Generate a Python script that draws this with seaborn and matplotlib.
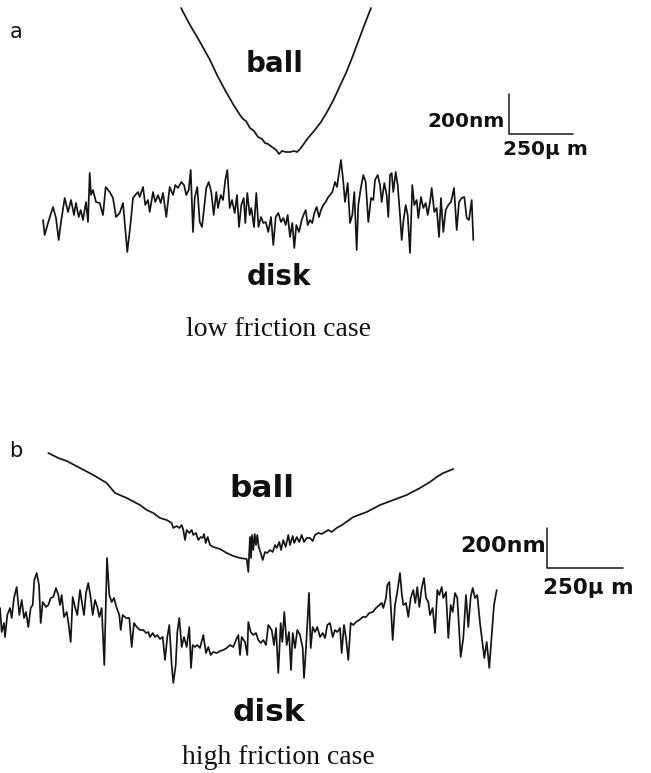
import matplotlib.pyplot as plt
import seaborn as sns
import pandas as pd

# Profile readings taken off the figure.
# x = scan position, z = height above the trace baseline (up is positive),
# both in picture units; the scale bars give the physical size of one unit.

# (a) low friction case
ball_a_x = [181, 190, 200, 210, 217, 225, 233, 240, 243, 246, 250, 254, 258, 262, 265, 268, 272, 275, 277, 279,
            282, 286, 290, 294, 297, 300, 303, 308, 314, 321, 327, 333, 339, 346, 352, 358, 364, 371]
ball_a_z = [144, 127, 110, 92, 77, 62, 48, 37, 33, 31, 24, 21, 15, 13, 9, 8, 5, 3, 1, -2,
            1, 0, 0, 1, 0, 3, 7, 14, 21, 30, 40, 51, 64, 79, 94, 110, 126, 144]

disk_a_x = [43, 44.7, 48, 53, 56, 58.7, 61, 64.7, 68, 71,
            74, 76, 78.7, 80.7, 83, 86, 88, 89.7, 91, 93,
            96, 99.7, 103, 105.7, 109.7, 113, 116, 119.7, 123, 124.7,
            127.3, 130.7, 133, 135.3, 138, 139.7, 143, 145.3, 148, 149.7,
            153, 155.3, 158, 160.7, 163, 166.3, 169.7, 173, 175.3, 178,
            181.3, 184, 186.3, 188.7, 190.7, 193, 194.7, 197.3, 199.7, 202,
            204.7, 206.3, 208.7, 211.3, 213.7, 216.3, 218, 220.7, 223, 225.3,
            227.3, 229.7, 232, 234.7, 237, 239, 241.3, 243.7, 245.3, 247.3,
            249.7, 251.3, 254, 256.3, 258.5, 261, 263.3, 265.7, 268.3, 271,
            273.3, 275.7, 278.3, 281, 283.3, 285.7, 287.7, 290, 292.3, 294.3,
            296.3, 299, 301.7, 304.3, 305.7, 307.7, 310, 312.3, 314.3, 316.7,
            319, 321, 323.3, 325.7, 327.7, 330, 332.3, 335, 337, 339,
            341, 343.3, 345, 347.7, 350, 352.3, 354.3, 356.7, 358.3, 361,
            363.3, 365.7, 368.3, 371, 373.3, 375, 377.7, 380, 381.7, 384.3,
            386.7, 388.3, 390, 391.7, 393.3, 395.7, 397.7, 400, 401.7, 403.3,
            405.7, 407.7, 410, 412.3, 414.3, 416.7, 418.3, 421, 423.3, 425.7,
            427.7, 430, 431.7, 434.3, 436.7, 439, 441, 443.3, 445.7, 448.3,
            451, 454, 456.7, 459, 461.7, 464.3, 466.7, 469, 471.7, 473.3]
disk_a_z = [0, -15, -3, 13, 2, -20, -2, 22, 8, 20,
            5, 17, 3, 10, 0, 18, -2, 47, 25, 30,
            18, 17, 5, 33, 28, 22, 3, 7, 17, -2,
            -32, -2, 22, 25, 28, 23, 33, 15, 20, 8,
            28, 18, 25, 17, 27, 3, 33, 25, 35, 32,
            38, 35, 25, 30, 50, -12, 22, 33, -2, -7,
            18, 32, 38, 28, 5, 28, 12, 25, 20, 40,
            50, 12, 20, 7, 25, -7, 15, 22, -3, 27,
            5, 12, -7, 27, -7, 3, -3, -2, -12, 3,
            -25, 3, 7, -2, 2, -5, 5, -17, -3, -28,
            -5, -12, 0, 7, 10, -5, 0, -3, 7, 13,
            3, 10, 15, 18, 22, 25, 28, 38, 33, 47,
            60, 38, 18, 37, -3, 5, 28, -30, 15, 33,
            45, 38, -2, 22, 20, 40, 45, 35, 18, 37,
            25, 3, 45, 47, 28, 48, 35, 5, -20, -2,
            15, 5, -33, 35, 15, 20, 2, 23, 12, 17,
            5, 18, 32, 8, 12, -17, 22, -12, 10, 15,
            18, 32, -10, 18, 22, 23, 2, 0, 20, -20]

# (b) high friction case
ball_b_x = [48.3, 58.3, 66.7, 80, 93.3, 106.7, 115, 126.7, 140, 146.7,
            153.3, 160, 166.7, 171.7, 173.3, 176.7, 179.3, 181.7, 183.3, 185,
            186.7, 189.3, 191.7, 193.3, 196, 198.3, 200.7, 202.7, 204, 205.7,
            207.7, 210, 213.3, 220, 226.7, 233.3, 240, 246.7, 248.3, 249,
            250, 251, 252, 253.3, 254.7, 256, 257.3, 258.7, 260.7, 262.7,
            265, 267.3, 270, 272.7, 275, 276.7, 279.3, 281, 283.3, 285.7,
            288.3, 290, 292.7, 294.3, 296.7, 299.3, 301.7, 304, 306.7, 310,
            312.7, 315, 318.3, 321.7, 325, 328.3, 331.7, 336.7, 342, 353.3,
            366.7, 380, 393.3, 406.7, 420, 430, 436.7, 443.3, 453.3]
ball_b_z = [104, 99, 96, 89, 82, 74, 64, 59, 52, 47,
            44, 39, 37, 34, 29, 31, 29, 32, 27, 17,
            27, 24, 27, 22, 24, 17, 20, 19, 23, 14,
            20, 12, 10, 8, 4, 1, -1, -2, -15, 0,
            20, -1, 22, 7, 23, 12, 22, 10, 4, -3,
            5, 4, 7, 5, 12, 9, 15, 7, 17, 10,
            22, 12, 21, 14, 20, 15, 22, 15, 19, 19,
            16, 22, 24, 23, 25, 27, 25, 29, 32, 40,
            45, 52, 57, 62, 69, 75, 80, 84, 88]

disk_b_x = [0, 1.7, 4, 5, 7.3, 10, 11.7, 14, 16.7, 19.3,
            21.7, 24, 26, 28.3, 30.7, 32.7, 34.3, 36.7, 39, 40.7,
            42.7, 46, 48.3, 50.7, 53.3, 56, 58.3, 60, 61.7, 64,
            66.7, 68.3, 70.7, 72.7, 75, 77.3, 80, 82.3, 84, 86,
            88.3, 90.7, 92.7, 95, 97.3, 99.3, 101.7, 104.3, 107, 109.3,
            111.7, 114, 116.7, 119.3, 120.7, 122.7, 126, 129.3, 131.7, 134,
            136.7, 140, 143.3, 146, 148.3, 150, 152.7, 155, 157.3, 160,
            162.7, 165, 167.3, 169.3, 171.7, 173.3, 175.7, 177.3, 179.3, 181.7,
            184, 186.7, 189.3, 191, 192.7, 195, 197.3, 200, 203.3, 206,
            208.3, 210.7, 213.3, 216.7, 220, 223.3, 226.7, 230, 233.3, 236,
            238.3, 240, 241.7, 245, 247.3, 248.3, 250.7, 253.3, 256, 258.3,
            260.7, 263.3, 266, 268.3, 271.7, 274, 276, 278.3, 280.7, 282.3,
            284.3, 286.7, 289, 291, 292.7, 295, 297.3, 300, 302.7, 304,
            306, 307.3, 309, 310.7, 312.7, 315, 317.3, 320, 322.7, 325,
            327.3, 330, 332.7, 335, 337.3, 340, 341.7, 344, 346, 348.3,
            350.7, 353.3, 356, 359.3, 362.7, 366, 369.3, 372.7, 376, 379.3,
            381.7, 383.3, 386, 387.3, 389.3, 390.7, 392.7, 395, 397.3, 400,
            401.7, 403.3, 406, 408.3, 410.7, 413.3, 415.3, 417.3, 419.3, 421.7,
            424, 426, 428.3, 430, 432.7, 435, 437.3, 439.3, 441.7, 443.3,
            446, 448.3, 450.7, 452.7, 455, 457.3, 460.7, 463.3, 466, 468.3,
            470.7, 472.7, 475, 477.3, 480, 482.7, 484.3, 486.7, 489.3, 491.7,
            494, 496.7]
disk_b_z = [22, -2, 7, -7, 15, 22, 12, 32, 43, 15,
            30, 12, 18, 3, 22, 25, 50, 57, 45, 7,
            28, 23, 25, 32, 33, 42, 35, 25, 35, 13,
            18, 8, -12, 33, 23, 15, 40, 25, 15, 37,
            47, 32, 15, 30, 23, 13, 22, -35, 72, 35,
            28, 32, 22, 15, 0, 15, 12, 12, -17, 7,
            3, 0, 0, -3, -2, -7, -3, -7, -5, -9,
            -7, -30, -7, 5, -35, -53, -35, -2, 12, -17,
            -7, -17, 3, -38, -15, -17, -15, -18, -5, -23,
            -17, -25, -22, -23, -21, -20, -18, -15, -17, -10,
            -5, -25, -7, -12, -25, 8, -2, -5, -3, -10,
            -13, -10, -15, 5, 0, -15, 2, -43, 7, -12,
            18, -15, -2, -40, -3, -18, 0, -5, -18, -48,
            -18, 5, 37, -18, 3, -2, 3, -7, -3, -8,
            5, 7, -7, 0, -2, 2, -23, 5, -8, -30,
            7, 5, 8, 10, 13, 13, 17, 18, 22, 25,
            27, 22, 32, 45, 48, 25, -10, 25, 38, 57,
            37, 25, 27, 13, 32, 40, 27, 43, 23, 42,
            52, 32, 28, 15, 22, -3, 40, 35, 43, 32,
            38, -8, 25, 18, 37, 32, -27, -8, 35, 3,
            33, 42, 32, 35, 7, -15, -28, -12, -38, -5,
            25, 40]

# scale bars: 200 nm and 250 um expressed in picture units
bar_nm, bar_um = 200, 250
bar_a_h, bar_a_w = 40, 64
bar_b_h, bar_b_w = 40, 76

# layout (picture rows of each trace baseline)
base = {'ball_a': 152, 'disk_a': 220, 'ball_b': 557, 'disk_b': 630}

sns.set_style('white')
fig = plt.figure(figsize=(6.51, 7.73), dpi=100)
ax = fig.add_axes([0, 0, 1, 1])

ink = '#151515'
traces = [('ball_a', ball_a_x, ball_a_z), ('disk_a', disk_a_x, disk_a_z),
          ('ball_b', ball_b_x, ball_b_z), ('disk_b', disk_b_x, disk_b_z)]
for name, xs, zs in traces:
    df = pd.DataFrame({'x': xs, 'y': [base[name] - z for z in zs]})
    sns.lineplot(data=df, x='x', y='y', sort=False, estimator=None,
                 color=ink, lw=1.25, ax=ax)
ax.set_xlim(0, 651)
ax.set_ylim(773, 0)
ax.axis('off')

# scale bars
ax.plot([509, 509, 509 + bar_a_w], [134 - bar_a_h, 134, 134], color=ink, lw=1.1)
ax.plot([547, 547, 547 + bar_b_w], [568 - bar_b_h, 568, 568], color=ink, lw=1.1)

bold = dict(family='DejaVu Sans', weight='bold', color='#111111')
ax.text(505, 127, f'{bar_nm}nm', ha='right', va='baseline', fontsize=14.5, **bold)
ax.text(503, 155, f'{bar_um}\u03bc m', ha='left', va='baseline', fontsize=14.5, **bold)
ax.text(546, 552, f'{bar_nm}nm', ha='right', va='baseline', fontsize=16, **bold)
ax.text(543, 594, f'{bar_um}\u03bc m', ha='left', va='baseline', fontsize=15.5, **bold)

ax.text(275, 72, 'ball', ha='center', va='baseline', fontsize=20, **bold)
ax.text(279, 285, 'disk', ha='center', va='baseline', fontsize=20, **bold)
ax.text(262, 497, 'ball', ha='center', va='baseline', fontsize=22.5, **bold)
ax.text(269, 721, 'disk', ha='center', va='baseline', fontsize=22.5, **bold)

ax.text(10, 38, 'a', ha='left', va='baseline', fontsize=15, family='DejaVu Sans', color='#111111')
ax.text(9, 457, 'b', ha='left', va='baseline', fontsize=15, family='DejaVu Sans', color='#111111')

ax.text(278, 336, 'low friction case', ha='center', va='baseline', fontsize=20,
        family='Liberation Serif', color='#111111')
ax.text(278, 764, 'high friction case', ha='center', va='baseline', fontsize=20,
        family='Liberation Serif', color='#111111')

fig.savefig('out.png', dpi=100)
